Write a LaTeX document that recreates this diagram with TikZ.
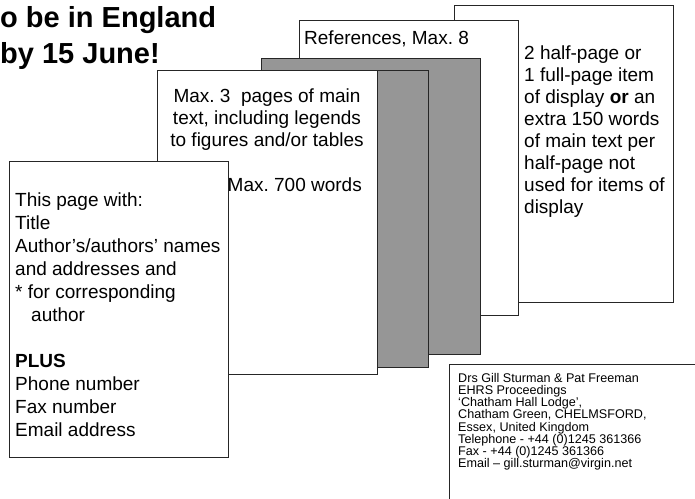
\documentclass[tikz,border=0pt]{standalone}
\usepackage{fontspec}
\setmainfont{Liberation Sans}
\definecolor{pagegrey}{RGB}{150,150,150}
\frenchspacing

\begin{document}
\begin{tikzpicture}[x=1pt, y=-1pt,
    page/.style={draw=black!85, line width=0.9pt, fill=white, inner sep=0pt,
      anchor=north west, minimum width=219pt, minimum height=296pt},
    greypage/.style={page, fill=pagegrey},
    txt/.style={inner sep=0pt, font=\fontsize{19}{22}\selectfont},
    small/.style={inner sep=0pt, font=\fontsize{12.6}{12.2}\selectfont}]
            \useasboundingbox (0,0) rectangle (695,498);
            \clip (0,0) rectangle (695,498);

            % heading, as far as it shows at the left border
            \node[inner sep=0pt, anchor=north west, align=left,
              font=\fontsize{29}{36}\selectfont\bfseries] (heading) at (0,6)
              {o be in England\\by 15 June!};

            % stack of pages, back to front
            \node[page, minimum height=297pt] (display) at (454,5) {};
            \node[page, minimum height=295pt] (refs) at (299,20) {};
            \node[greypage] (grey2) at (261,58) {};
            \node[greypage, minimum width=220pt, minimum height=297pt] (grey1) at (208,70) {};
            \node[page, minimum width=220pt, minimum height=304pt] (main) at (157,70) {};
            \node[page] (titlepg) at (9,161) {};

            \node[txt, anchor=base west] (refstext) at (304,44) {References, Max. 8};
            \node[txt, anchor=north west, align=left] (displaytext) at (524,46)
              {2 half-page or\\1 full-page item\\of display \textbf{or} an\\extra 150 words\\
               of main text per\\half-page not\\used for items of\\display};
            \node[txt, anchor=north, align=center] (maintext) at (267,89)
              {Max. 3\ \ pages of main\\text, including legends\\to figures and/or tables};
            \node[txt, anchor=base east] (maxwords) at (362,191) {Max. 700 words};
            \node[txt, anchor=north west, align=left,
              font=\fontsize{19}{23}\selectfont] (titletext) at (15,193)
              {This page with:\\Title\\Author's/authors' names\\and addresses and\\
               * for corresponding\\\hspace*{16pt}author\\[23pt]\textbf{PLUS}\\
               Phone number\\Fax number\\Email address};

            % contact box, cut at the right and bottom
            \node[page, minimum width=260pt, minimum height=150pt] (address) at (449,364) {};
            \node[small, anchor=north west, align=left] (addresstext) at (458,373)
              {Drs Gill Sturman \& Pat Freeman\\EHRS Proceedings\\`Chatham Hall Lodge',\\
               Chatham Green, CHELMSFORD,\\Essex, United Kingdom\\
               Telephone - +44 (0)1245 361366\\Fax - +44 (0)1245 361366\\
               Email -- gill.sturman@virgin.net};
        \end{tikzpicture}
\end{document}
